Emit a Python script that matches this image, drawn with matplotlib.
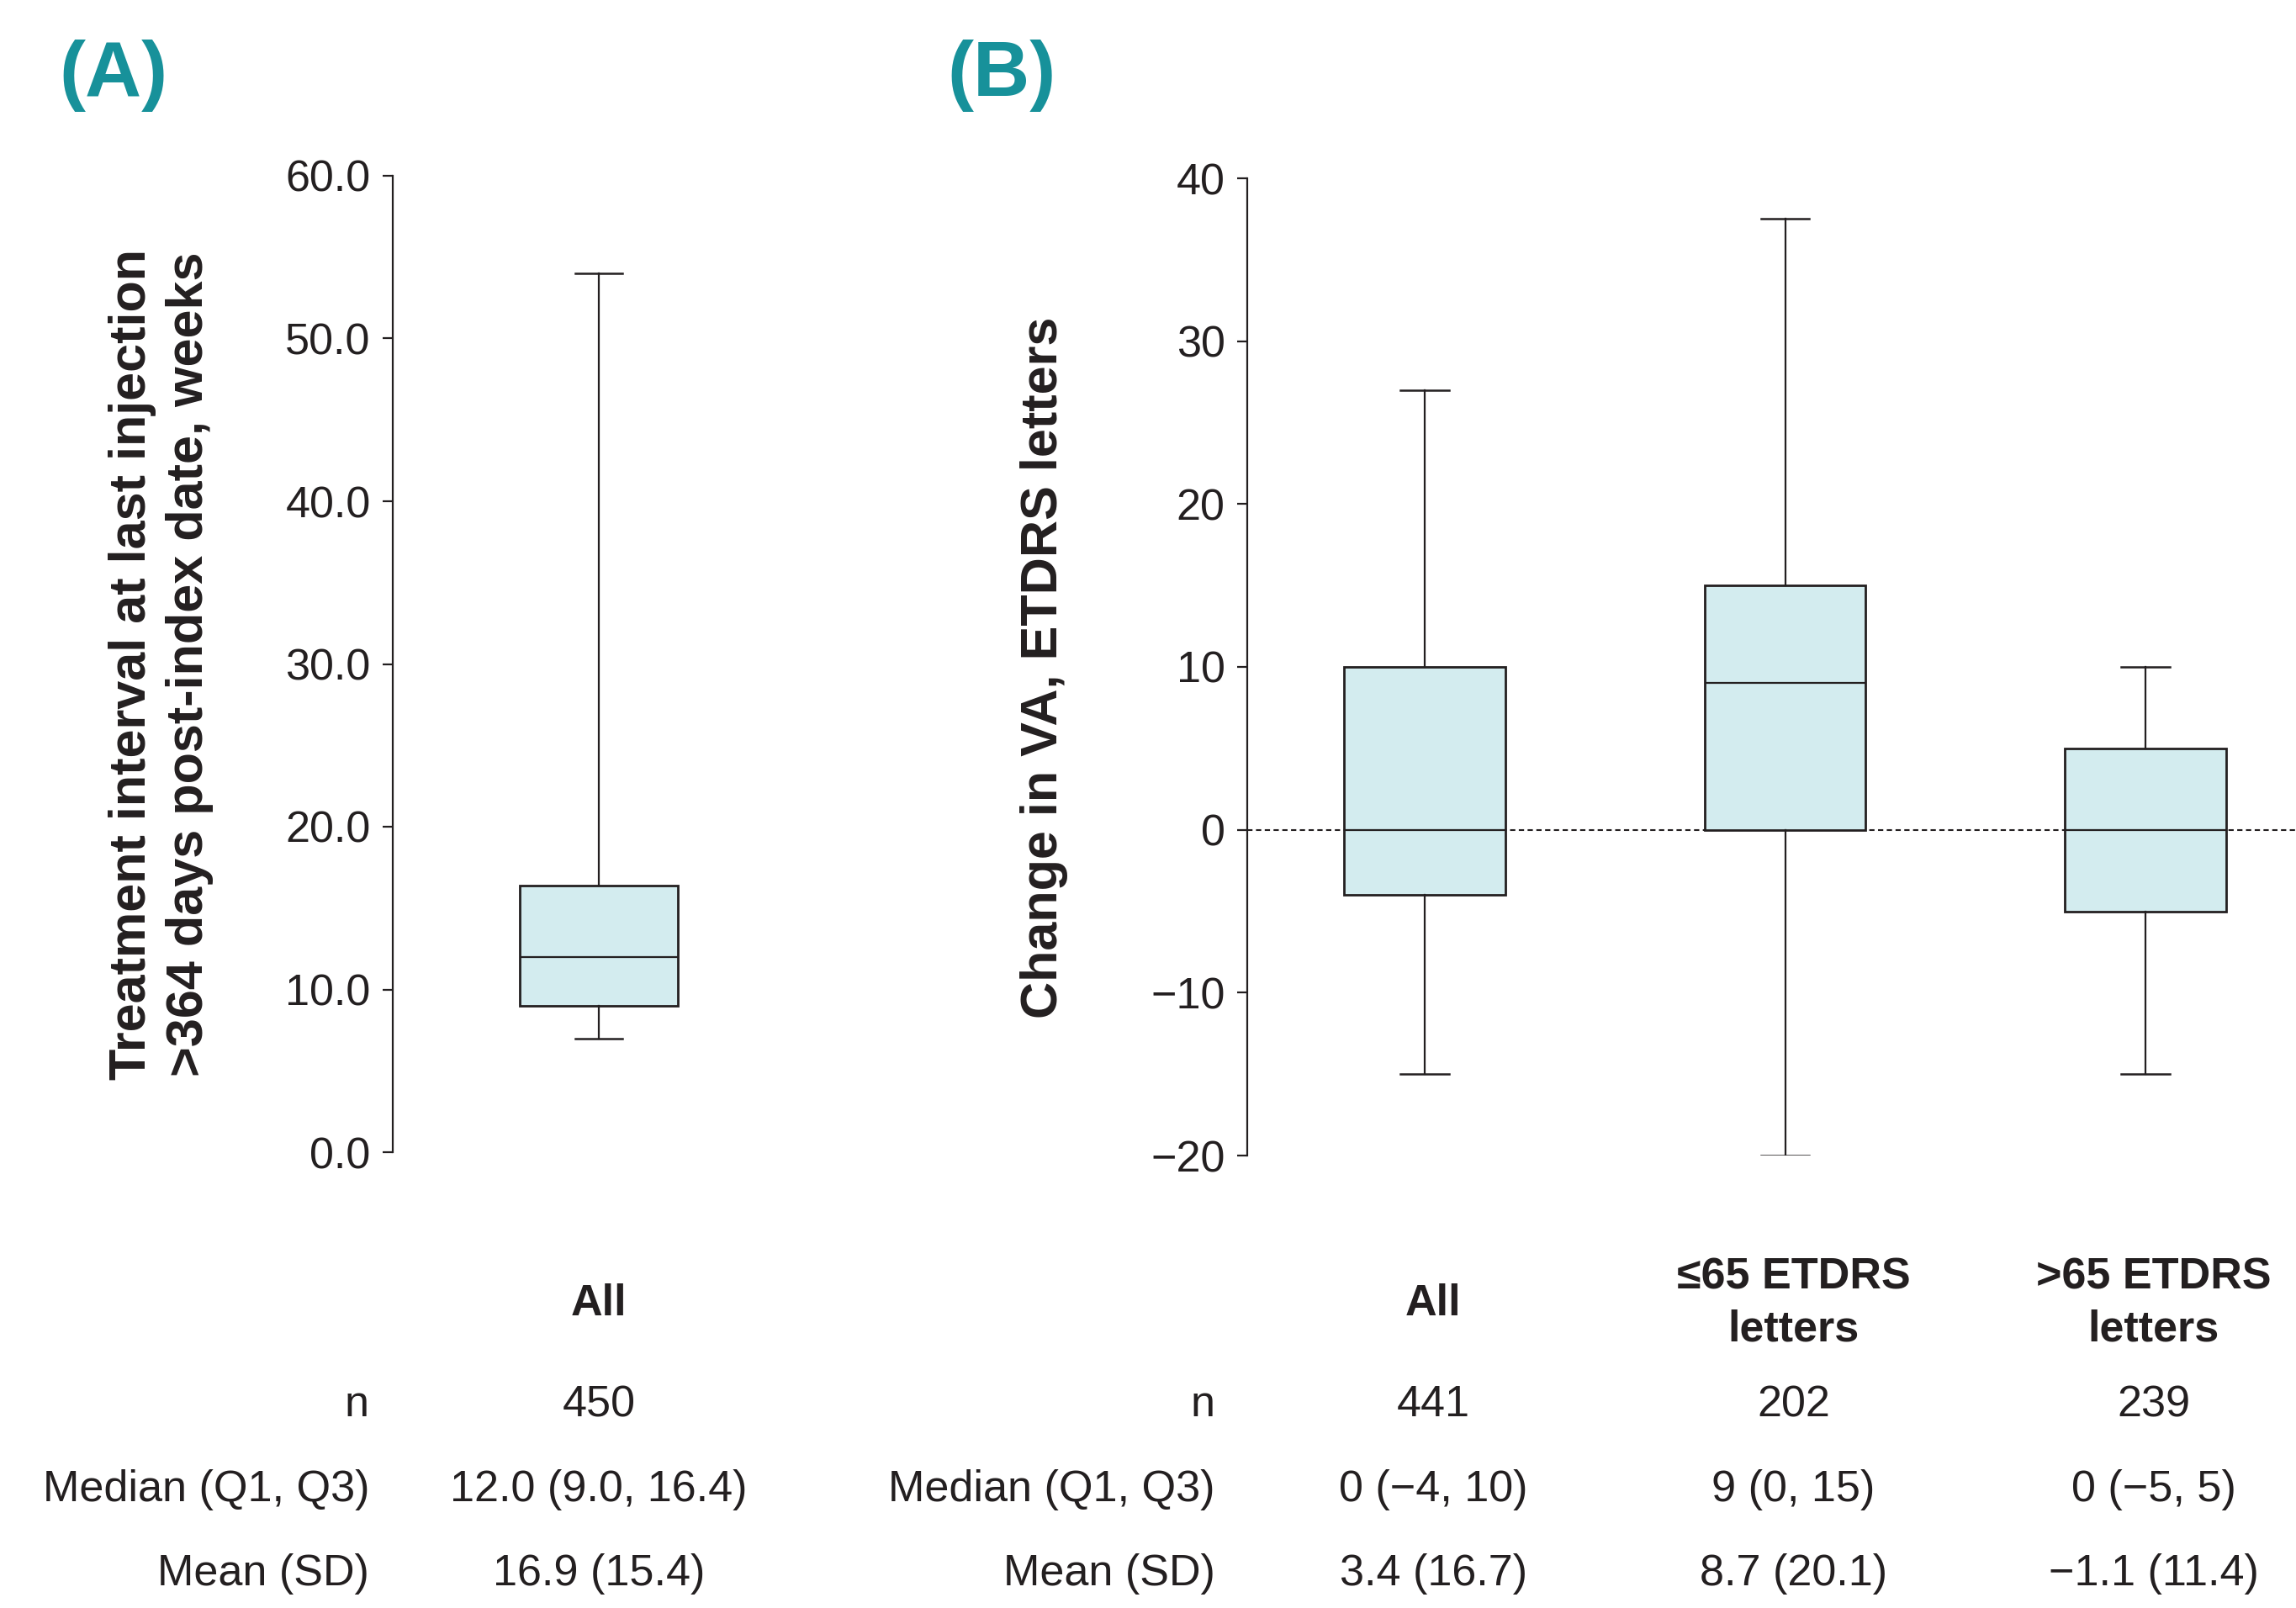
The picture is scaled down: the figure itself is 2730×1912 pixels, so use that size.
import matplotlib
matplotlib.use("Agg")
import matplotlib.pyplot as plt
import matplotlib.transforms as mtransforms
from matplotlib.ticker import FormatStrFormatter, MultipleLocator

plt.rcParams['font.family'] = ['Liberation Sans', 'DejaVu Sans']

# ==============================
# Data
# ==============================

# (A) treatment interval, weeks
a_groups = ['All']
a_whislo = [7.0]
a_q1 = [9.0]
a_med = [12.0]
a_q3 = [16.4]
a_whishi = [54.0]
a_n = ['450']
a_median_txt = ['12.0 (9.0, 16.4)']
a_mean_txt = ['16.9 (15.4)']

# (B) change in VA, ETDRS letters
b_groups = ['All', '\u226465 ETDRS\nletters', '>65 ETDRS\nletters']
b_whislo = [-15, -20, -15]
b_q1 = [-4, 0, -5]
b_med = [0, 9, 0]
b_q3 = [10, 15, 5]
b_whishi = [27, 37.5, 10]
b_n = ['441', '202', '239']
b_median_txt = ['0 (\u22124, 10)', '9 (0, 15)', '0 (\u22125, 5)']
b_mean_txt = ['3.4 (16.7)', '8.7 (20.1)', '\u22121.1 (11.4)']

row_labels = ['n', 'Median (Q1, Q3)', 'Mean (SD)']

DARK = '#231F20'
TEAL = '#17919A'
FILL = '#D3ECEF'
FS = 37.5

W, H = 2730, 1912


def draw_boxes(ax, positions, whislo, q1, med, q3, whishi, width):
    stats = []
    for i in range(len(positions)):
        stats.append(dict(whislo=whislo[i], q1=q1[i], med=med[i], q3=q3[i],
                          whishi=whishi[i], fliers=[]))
    ax.bxp(stats, positions=positions, widths=width, capwidths=width * 0.3,
           patch_artist=True, showfliers=False, manage_ticks=False,
           boxprops=dict(facecolor=FILL, edgecolor=DARK, linewidth=2.0),
           medianprops=dict(color=DARK, linewidth=1.6),
           whiskerprops=dict(color=DARK, linewidth=1.6),
           capprops=dict(color=DARK, linewidth=1.8))


def style_axis(ax, lo, hi):
    for s in ['top', 'right', 'bottom']:
        ax.spines[s].set_visible(False)
    ax.spines['left'].set_bounds(lo, hi)
    ax.spines['left'].set_linewidth(1.6)
    ax.spines['left'].set_color(DARK)
    ax.set_ylim(lo, hi)
    ax.set_xticks([])
    ax.tick_params(axis='y', length=9, width=1.6, color=DARK, pad=10,
                   labelsize=FS, labelcolor=DARK)
    ax.patch.set_alpha(0)


def draw_table(ax, positions, headers, cols, label_x, dx=0):
    tr = mtransforms.blended_transform_factory(ax.transData, fig.transFigure)
    tr = tr + mtransforms.ScaledTranslation(dx / 100, 0, fig.dpi_scale_trans)
    for x, h in zip(positions, headers):
        fig.text(x, 1 - 1550 / H, h, transform=tr, ha='center', va='center',
                 fontsize=FS, fontweight='bold', color=DARK, linespacing=1.35)
    row_y = [1671, 1771, 1872]
    for ry, lab, vals in zip(row_y, row_labels, cols):
        fig.text(label_x, 1 - ry / H, lab, ha='right', va='center',
                 fontsize=FS, color=DARK)
        for x, v in zip(positions, vals):
            fig.text(x, 1 - ry / H, v, transform=tr, ha='center', va='center',
                     fontsize=FS, color=DARK)


fig = plt.figure(figsize=(W / 100, H / 100), dpi=100)

# ==============================
# Panel A
# ==============================
axA = fig.add_axes([467 / W, 1 - 1370 / H, 490 / W, (1370 - 209) / H])
axA.set_xlim(0, 1)
a_pos = [0.5]
draw_boxes(axA, a_pos, a_whislo, a_q1, a_med, a_q3, a_whishi, 0.384)
style_axis(axA, 0, 60)
axA.yaxis.set_major_locator(MultipleLocator(10))
axA.yaxis.set_major_formatter(FormatStrFormatter('%.1f'))

fig.text(192 / W, 1 - 790 / H,
         'Treatment interval at last injection\n>364 days post-index date, weeks',
         rotation=90, ha='center', va='center', fontsize=44, fontweight='bold',
         color=DARK, linespacing=1.25, multialignment='center')
fig.text(70 / W, 1 - 90 / H, '(A)', ha='left', va='center', fontsize=67,
         fontweight='bold', color=TEAL)

draw_table(axA, a_pos, a_groups, [a_n, a_median_txt, a_mean_txt], 439 / W)

# ==============================
# Panel B
# ==============================
axB = fig.add_axes([1483 / W, 1 - 1374 / H, (W - 1483) / W, (1374 - 212) / H])
axB.set_xlim(0.507, 3.418)
b_pos = [1, 2, 3]
axB.axhline(0, color=DARK, linewidth=1.5, linestyle=(0, (3, 2)), zorder=0)
draw_boxes(axB, b_pos, b_whislo, b_q1, b_med, b_q3, b_whishi, 0.447)
style_axis(axB, -20, 40)
axB.yaxis.set_major_locator(MultipleLocator(10))

fig.text(1241 / W, 1 - 794 / H, 'Change in VA, ETDRS letters',
         rotation=90, ha='center', va='center', fontsize=44, fontweight='bold',
         color=DARK)
fig.text(1126 / W, 1 - 90 / H, '(B)', ha='left', va='center', fontsize=67,
         fontweight='bold', color=TEAL)

draw_table(axB, b_pos, b_groups, [b_n, b_median_txt, b_mean_txt], 1445 / W,
           dx=10)

fig.savefig('out.png', dpi=100)
